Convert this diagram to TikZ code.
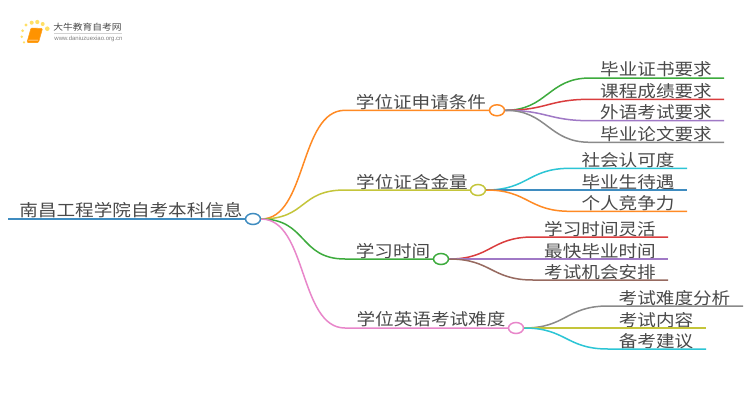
\documentclass[tikz,border=0pt]{standalone}
\usepackage{fontspec}
\setmainfont{Noto Sans CJK SC}[FakeStretch=1.12]
\setsansfont{Liberation Sans}
\usetikzlibrary{positioning,calc,shapes.geometric}
\definecolor{cblue}{HTML}{3F8CC0}
\definecolor{corange}{HTML}{FF8A24}
\definecolor{colive}{HTML}{C4C53A}
\definecolor{cgreen}{HTML}{3DAB3D}
\definecolor{cpink}{HTML}{E886CA}
\definecolor{cred}{HTML}{DA3D3E}
\definecolor{cpurple}{HTML}{A079C6}
\definecolor{cgray}{HTML}{8A8A8A}
\definecolor{cbrown}{HTML}{976A60}
\definecolor{ccyan}{HTML}{2CC5D5}
\definecolor{ctext}{HTML}{4A4A4A}
\tikzset{
    label/.style={text=ctext, inner sep=0pt, font=\fontsize{16.6}{20}\selectfont},
    bubble/.style={ellipse, draw=#1, fill=white, line width=1.5pt, minimum width=15pt, minimum height=11pt, inner sep=0pt},
    branch/.style={line width=1.5pt, draw=#1},
}
\begin{document}
\begin{tikzpicture}[x=1pt,y=-1pt]
    \path[use as bounding box, fill=white] (0,0) rectangle (750,410);
    % Logo
    \foreach \dx/\dy/\dr in {26/25/1.6,31.7/22.7/2,37.3/22/2.1,42.7/24/2,47.3/28.7/2.3,22.7/30.7/1.5,21.7/36.7/1.4,24/42.3/1.2} {
        \fill[orange!40!yellow!60] (\dx,\dy) circle (\dr);
    }
    \draw[corange!80!yellow, fill=orange!85!yellow, line width=0.6pt, rounded corners=1pt] (31,28) -- (42.5,28.5) -- (38.5,42.5) -- (27,42.5) -- cycle;
    \draw[white, line width=0.5pt] (28.5,40) -- (38,40.2);
    \node[label, font=\fontsize{8.7}{10}\selectfont] (brand) at (87.5,27) {大牛教育自考网};
    \node[inner sep=0pt, text=gray, font=\sffamily\fontsize{6}{6}\selectfont] (site) at (88.5,38.5) {www.daniuzuexiao.org.cn};
    \draw[gray!35, line width=0.5pt] (54,33.3) -- (122,33.3);
    % Root
    \coordinate (rootstart) at (8,219);
    \node[bubble=cblue] (root) at (253,219) {};
    \node[label] (roottext) at (131,210.5) {南昌工程学院自考本科信息};
    \draw[branch=cblue] (rootstart) -- (root);
    % Branches
    \foreach \name/\col/\kx/\tx/\ty/\bx/\by/\txt in {
        bra/corange/345/421/102/497/110.3/学位证申请条件,
        brb/colive/345/412/182/478/190/学位证含金量,
        brc/cgreen/345/393/251/441/259/学习时间,
        brd/cpink/345/431/319/516/328/学位英语考试难度} {
        \node[bubble=\col] (\name) at (\bx,\by) {};
        \node[label] (\name text) at (\tx,\ty) {\txt};
        \coordinate (\name knee) at (\kx,\by);
        \draw[branch=\col] (root.east) .. controls +(46,0) and +(-46,0) .. (\name knee) -- (\name);
    }
    % Leaves
    \foreach \from/\name/\col/\kx/\ex/\ly/\tx/\ty/\txt in {
        bra/a1/cgreen/590/724/78/656/69/毕业证书要求,
        bra/a2/cred/590/724/99.3/656/91.5/课程成绩要求,
        bra/a3/cpurple/590/724/120.7/656/112.5/外语考试要求,
        bra/a4/cgray/590/724/142.3/656/134/毕业论文要求,
        brb/b1/ccyan/570/687/168.3/628/160/社会认可度,
        brb/b2/cblue/570/687/190/628/182/毕业生待遇,
        brb/b3/corange/570/687/211.3/628/203/个人竞争力,
        brc/c1/cred/533/668/237/600/229/学习时间灵活,
        brc/c2/cpurple/533/668/259/600/251/最快毕业时间,
        brc/c3/cbrown/533/668/280/600/272/考试机会安排,
        brd/d1/cgray/608/743/306/674.5/298/考试难度分析,
        brd/d2/colive/608/706/328/656/320/考试内容,
        brd/d3/ccyan/608/706/349/656/341/备考建议} {
        \coordinate (\name knee) at (\kx,\ly);
        \coordinate (\name end) at (\ex,\ly);
        \node[label] (\name) at (\tx,\ty) {\txt};
        \draw[branch=\col] (\from.east) .. controls +(42,0) and +(-42,0) .. (\name knee) -- (\name end);
    }
\end{tikzpicture}
\end{document}
